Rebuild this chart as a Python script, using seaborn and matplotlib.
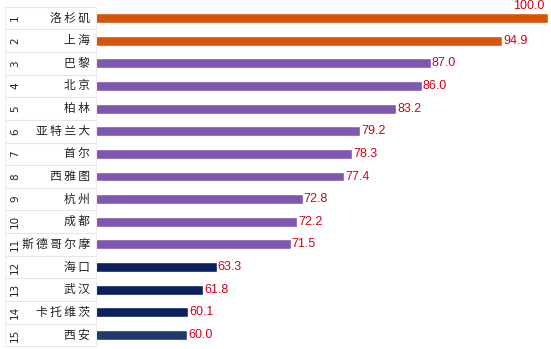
import matplotlib
matplotlib.use("Agg")
import matplotlib.pyplot as plt
import matplotlib.transforms as mtransforms
import seaborn as sns
import pandas as pd

ranks = list(range(1, 16))
cities = ["洛杉矶", "上海", "巴黎", "北京", "柏林", "亚特兰大", "首尔", "西雅图",
          "杭州", "成都", "斯德哥尔摩", "海口", "武汉", "卡托维茨", "西安"]
values = [100.0, 94.9, 87.0, 86.0, 83.2, 79.2, 78.3, 77.4, 72.8, 72.2, 71.5,
          63.3, 61.8, 60.1, 60.0]
bar_colors = ["#D4550A", "#D4550A"] + ["#7E57AE"] * 9 + ["#0C1F5E"] * 3 + ["#1F3A6B"]

sns.set_theme(style="white")
plt.rcParams['font.family'] = ['Noto Sans CJK SC', 'DejaVu Sans']

W, H = 551, 349
fig = plt.figure(figsize=(W / 100, H / 100), dpi=100)
ax = fig.add_axes([97 / W, 1 - 346.3 / H, (548 - 97) / W, (346.3 - 6.7) / H])

df = pd.DataFrame({"city": cities, "value": values})
sns.barplot(data=df, x="value", y="city", hue="city", palette=bar_colors,
            legend=False, orient="h", width=0.44, ax=ax, saturation=1)
ax.set_xlim(50, 100)
ax.set_ylim(len(cities) - 0.5, -0.5)
ax.set_xlabel("")
ax.set_ylabel("")
ax.set_xticks([])
ax.set_yticks([])
for s in ax.spines.values():
    s.set_visible(False)

label_font = ['Liberation Sans', 'DejaVu Sans']
for i, v in enumerate(values):
    if v >= 99.5:
        ax.text(99.65, i - 0.25, f"{v:.1f}", ha="right", va="bottom", color="#D0021B",
                fontsize=9, family=label_font, clip_on=False)
    else:
        ax.text(v + 0.1, i, f"{v:.1f}", ha="left", va="center", color="#D0021B",
                fontsize=9, family=label_font)

# left table
trans = mtransforms.blended_transform_factory(fig.transFigure, ax.transData)
x_left, x_right = 5 / W, 96 / W
for i in range(len(cities) + 1):
    ax.plot([x_left, x_right], [i - 0.5, i - 0.5], transform=trans, color="#E6E6E6",
            lw=0.8, clip_on=False)
ax.plot([x_left, x_left], [-0.5, len(cities) - 0.5], transform=trans, color="#EDEDED",
        lw=0.8, clip_on=False)
ax.plot([x_right, x_right], [-0.5, len(cities) - 0.5], transform=trans, color="#EDEDED",
        lw=0.8, clip_on=False)
for i, (r, c) in enumerate(zip(ranks, cities)):
    ax.text(15 / W, i, str(r), transform=trans, rotation=90, ha="center", va="center",
            fontsize=7.5, color="#222222", family=['DejaVu Sans'], clip_on=False)
    ax.text(90 / W, i, "\u2009".join(c), transform=trans, ha="right",
            va="center", fontsize=8.5, color="#222222", fontweight="medium",
            family=['Noto Sans CJK SC', 'DejaVu Sans'], clip_on=False)

fig.savefig("out.png", dpi=100)
